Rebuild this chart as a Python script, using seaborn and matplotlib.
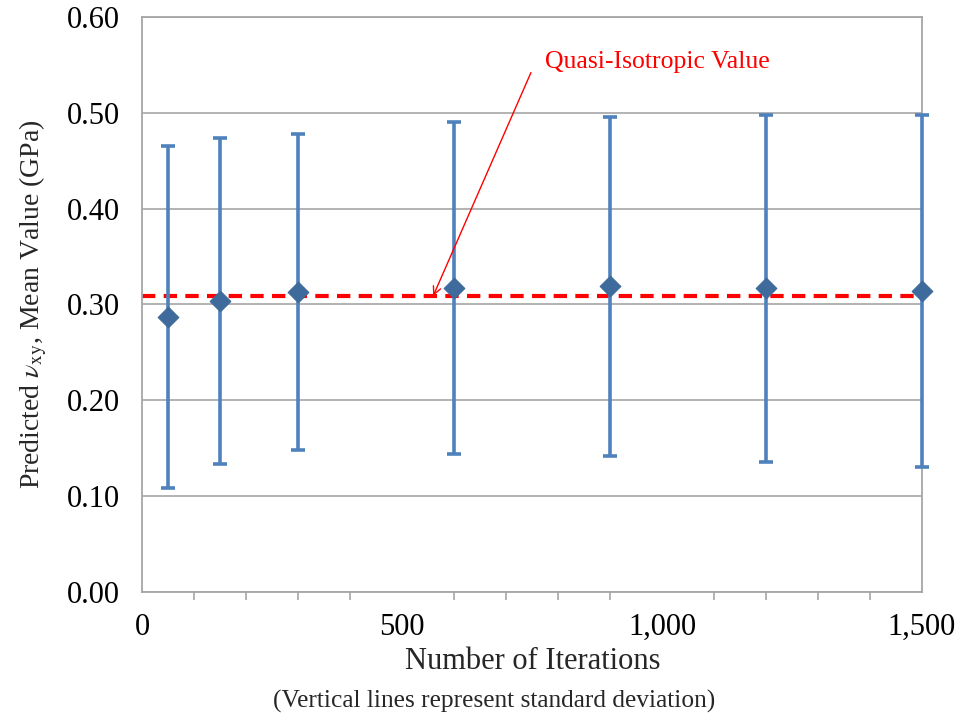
import matplotlib
matplotlib.use("Agg")
import matplotlib.pyplot as plt
import matplotlib.ticker as mticker
import numpy as np
import pandas as pd
import seaborn as sns

# Monte Carlo convergence of the predicted Poisson ratio
iterations = [50, 150, 300, 600, 900, 1200, 1500]
mean_values = [0.287, 0.304, 0.313, 0.317, 0.319, 0.317, 0.314]
std_devs = [0.178, 0.170, 0.165, 0.173, 0.177, 0.181, 0.184]
quasi_isotropic = 0.309
y_ticks = [0.0, 0.1, 0.2, 0.3, 0.4, 0.5, 0.6]

df = pd.DataFrame({"iterations": iterations, "mean": mean_values, "std": std_devs})

sns.set_theme(style="white")
plt.rcParams["font.family"] = ["Liberation Serif", "DejaVu Serif"]
plt.rcParams["mathtext.fontset"] = "stix"

fig = plt.figure(figsize=(9.63, 7.19), dpi=100)
ax = fig.add_axes([0.1475, 0.1766, 0.8099, 0.7998])

bar_color = "#4F81BD"
marker_color = "#3F6A9C"
grid_color = "#A6A6A6"

eb = ax.errorbar(df["iterations"], df["mean"], yerr=df["std"], fmt="none",
                 ecolor=bar_color, elinewidth=2.6, capsize=5, capthick=2.6,
                 zorder=3)
for artist in eb.lines[1] + eb.lines[2]:
    artist.set_clip_on(False)
sns.scatterplot(data=df, x="iterations", y="mean", marker="D", s=110,
                color=marker_color, edgecolor=marker_color, ax=ax, zorder=4,
                legend=False, clip_on=False)

ax.axhline(quasi_isotropic, color="#FF0000", linestyle=(0, (3.2, 2.0)),
           linewidth=3.0, zorder=2)
ax.annotate("", xy=(560, quasi_isotropic), xytext=(748, 0.542),
            arrowprops=dict(arrowstyle="->", color="#FF0000", lw=1.0,
                            shrinkA=0, shrinkB=0, mutation_scale=14))
ax.text(775, 0.553, "Quasi-Isotropic Value", color="#FF0000", fontsize=18.5,
        ha="left", va="center")

ax.set_xlim(0, 1500)
ax.set_ylim(0, 0.6)
ax.set_yticks(y_ticks)
ax.yaxis.set_major_formatter(mticker.FormatStrFormatter("%.2f"))
ax.set_xticks([0, 500, 1000, 1500])
ax.xaxis.set_minor_locator(mticker.MultipleLocator(100))
ax.xaxis.set_major_formatter(mticker.FuncFormatter(lambda v, p: f"{int(v):,}"))

ax.grid(axis="y", color=grid_color, linewidth=1.2)
ax.set_axisbelow(True)
for side in ["left", "bottom", "right", "top"]:
    ax.spines[side].set_color(grid_color)
    ax.spines[side].set_linewidth(1.3)

ax.tick_params(axis="both", which="major", direction="out", length=7,
               color=grid_color, width=1.2, labelsize=22, labelcolor="black",
               pad=9)
ax.tick_params(axis="x", which="major", pad=8)
ax.tick_params(axis="x", which="minor", direction="out", length=6,
               color=grid_color, width=1.2, bottom=True)

ax.set_xlabel("")
ax.set_ylabel(r"Predicted $\nu_{\mathrm{xy}}$, Mean Value (GPa)", fontsize=20,
              labelpad=13)

fig.text(0.553, 0.080, "Number of Iterations", ha="center", va="center",
         fontsize=22)
fig.text(0.513, 0.024, "(Vertical lines represent standard deviation)",
         ha="center", va="center", fontsize=18.3)

fig.savefig("out.png", dpi=100)
